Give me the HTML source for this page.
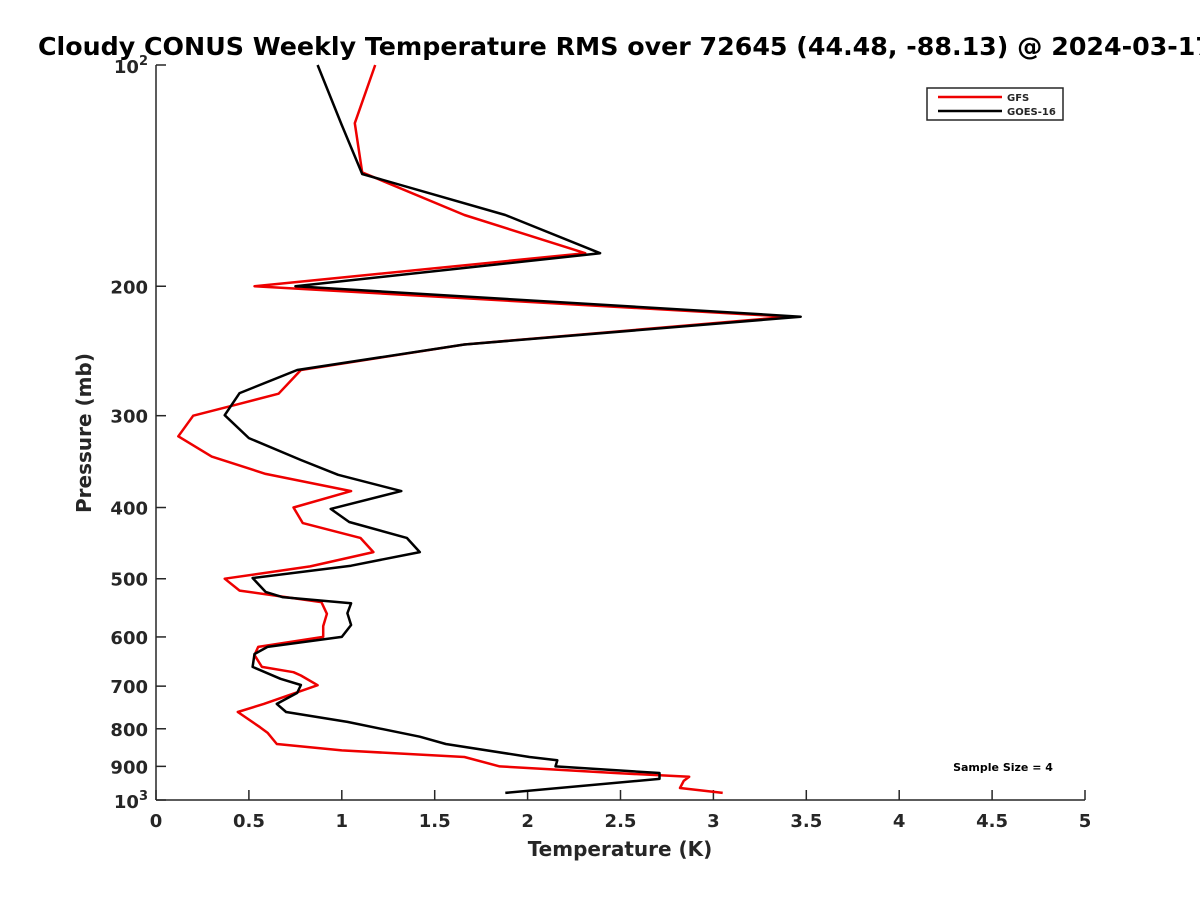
<!DOCTYPE html>
<html><head><meta charset="utf-8"><style>
body{margin:0;background:#fff;overflow:hidden;}
svg text{font-family:"DejaVu Sans","Liberation Sans",sans-serif;font-weight:bold;fill:#262626;}
</style></head><body>
<svg id="chart" width="1200" height="900" xmlns="http://www.w3.org/2000/svg">
<rect width="1200" height="900" fill="#fff"/>
<text x="38" y="55" font-size="25" textLength="1175" lengthAdjust="spacingAndGlyphs" style="fill:#000">Cloudy CONUS Weekly Temperature RMS over 72645 (44.48, -88.13) @ 2024-03-17</text>
<g id="axes"></g>
<g id="series"></g>
<text x="620" y="856" text-anchor="middle" font-size="20">Temperature (K)</text>
<text transform="translate(91,433) rotate(-90)" text-anchor="middle" font-size="20">Pressure (mb)</text>
<g>
<rect x="927" y="88" width="136" height="32" fill="#fff" stroke="#262626" stroke-width="1.5"/>
<line x1="938" y1="97" x2="1002" y2="97" stroke="#e00" stroke-width="2.5"/>
<text x="1007" y="101" font-size="10">GFS</text>
<line x1="938" y1="111" x2="1002" y2="111" stroke="#000" stroke-width="2.5"/>
<text x="1007" y="115" font-size="10">GOES-16</text>
</g>
<text x="1003" y="771" text-anchor="middle" font-size="11" style="fill:#000">Sample Size = 4</text>
</svg>
<script>
const xTicks=[0,0.5,1,1.5,2,2.5,3,3.5,4,4.5,5];
const xTickLabels=["0","0.5","1","1.5","2","2.5","3","3.5","4","4.5","5"];
const yTicks=[100,200,300,400,500,600,700,800,900,1000];
const yTickLabels=["","200","300","400","500","600","700","800","900",""];
const goesP=[100,120.7,140.7,160,180.3,200,220,240,260,279.5,299.5,321.8,344.7,361,380,401.8,418.6,440,460,480,498.9,521,529.6,540,557,578,600,619,633,659,684,697.5,715,740,759,783,820,839,874,883,900,919,936,978];
const goesT=[0.87,1.0,1.11,1.88,2.39,0.75,3.47,1.66,0.76,0.45,0.37,0.50,0.78,0.98,1.32,0.94,1.04,1.35,1.42,1.05,0.52,0.59,0.68,1.05,1.03,1.05,1.0,0.60,0.53,0.52,0.67,0.78,0.76,0.65,0.70,1.03,1.42,1.56,2.01,2.16,2.15,2.71,2.71,1.88];
const gfsP=[100,120,140,160,180.3,200,220,240,260,280,289,300,320,341,360,380,400,420,440,460,481,500,519,538,558,580,600,619,635,659,670,677,698,740,759,796,810,839,856,874,900,919,930,942,963,978];
const gfsT=[1.18,1.07,1.11,1.66,2.31,0.53,3.41,1.66,0.78,0.66,0.45,0.20,0.12,0.30,0.59,1.05,0.74,0.79,1.10,1.17,0.83,0.37,0.45,0.89,0.92,0.90,0.90,0.55,0.53,0.57,0.74,0.78,0.87,0.58,0.44,0.56,0.60,0.65,1.0,1.66,1.85,2.47,2.87,2.84,2.82,3.05];
const X0=156,X1=1085,Y0=65,Y1=800;
const xs=v=>X0+(v-0)/(5-0)*(X1-X0);
const ys=p=>Y0+(Math.log10(p)-2)*(Y1-Y0);
const NS="http://www.w3.org/2000/svg";
function mk(tag,attrs,parent){const e=document.createElementNS(NS,tag);for(const k in attrs)e.setAttribute(k,attrs[k]);parent.appendChild(e);return e;}
const ax=document.getElementById('axes');
let l=mk('line',{x1:X0,y1:Y0,x2:X0,y2:Y1,stroke:'#262626','stroke-width':1.5},ax);


l=mk('line',{x1:X0,y1:Y1,x2:X1,y2:Y1,stroke:'#262626','stroke-width':1.5},ax);


xTicks.forEach((v,i)=>{
 const t=mk('line',{x1:xs(v),y1:Y1,x2:xs(v),y2:Y1-10,stroke:'#262626','stroke-width':1.5},ax);
 
 
 const tx=mk('text',{x:xs(v),y:Y1+27,'text-anchor':'middle','font-size':18},ax);
 tx.textContent=xTickLabels[i];
 
 
});
yTicks.forEach((v,i)=>{
 const t=mk('line',{x1:X0,y1:ys(v),x2:X0+10,y2:ys(v),stroke:'#262626','stroke-width':1.5},ax);
 
 
 if(yTickLabels[i]){
  const tx=mk('text',{x:X0-8,y:ys(v)+7,'text-anchor':'end','font-size':18},ax);
  tx.textContent=yTickLabels[i];
  
  
 }
});
[[100,'2'],[1000,'3']].forEach(([v,e])=>{
 const tx=mk('text',{x:X0-8,y:ys(v)+8,'text-anchor':'end','font-size':18},ax);
 tx.innerHTML='10<tspan dy="-8" font-size="13">'+e+'</tspan>';
 
 
});
const sg=document.getElementById('series');
function line(P,T,color,name){
 const d=P.map((p,i)=>(i?'L':'M')+xs(T[i]).toFixed(1)+','+ys(p).toFixed(1)).join('');
 const e=mk('path',{d:d,fill:'none',stroke:color,'stroke-width':2.5,'stroke-linejoin':'round'},sg);
 
 
}
line(gfsP,gfsT,'#e00','gfs-line');
line(goesP,goesT,'#000','goes16-line');
</script>
</body></html>
